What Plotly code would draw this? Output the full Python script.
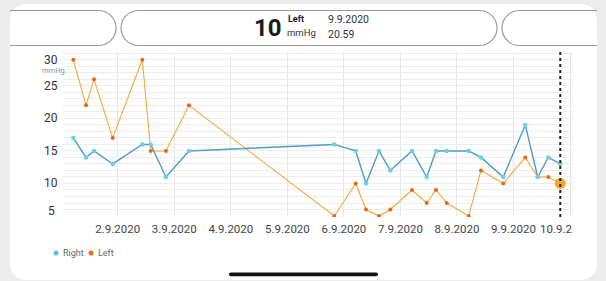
import plotly.graph_objects as go

W, H = 606, 281

# ---- data ----
times = [
    "2020-09-01 05:08", "2020-09-01 10:32", "2020-09-01 13:55", "2020-09-01 21:52",
    "2020-09-02 10:25", "2020-09-02 13:59", "2020-09-02 20:28", "2020-09-03 06:14",
    "2020-09-05 19:55", "2020-09-06 05:01", "2020-09-06 09:23", "2020-09-06 14:54",
    "2020-09-06 19:42", "2020-09-07 04:54", "2020-09-07 11:08", "2020-09-07 15:06",
    "2020-09-07 19:38", "2020-09-08 04:58", "2020-09-08 10:12", "2020-09-08 19:39",
    "2020-09-09 04:59", "2020-09-09 10:16", "2020-09-09 14:46", "2020-09-09 19:51",
]
right = [17, 14, 15, 13, 16, 16, 11, 15, 16, 15, 10, 15, 12, 15, 11, 15, 15, 15, 14, 11, 19, 11, 14, 13]
left = [29, 22, 26, 17, 29, 15, 15, 22, 5, 10, 6, 5, 6, 9, 7, 9, 7, 5, 12, 10, 14, 11, 11, 10]

selected_time = "2020-09-09 19:51"
selected_value = 10
header_value = "10"
header_side = "Left"
header_unit = "mmHg"
header_date = "9.9.2020"
header_clock = "20.59"

tick_vals = ["2020-09-02", "2020-09-03", "2020-09-04", "2020-09-05", "2020-09-06",
             "2020-09-07", "2020-09-08", "2020-09-09", "2020-09-10"]
tick_text = ["2.9.2020", "3.9.2020", "4.9.2020", "5.9.2020", "6.9.2020",
             "7.9.2020", "8.9.2020", "9.9.2020", ""]
last_tick_text = "10.9.2"
y_labels = [30, 25, 20, 15, 10, 5]

x_range = ["2020-09-01 00:38", "2020-09-10 01:15"]
y_range = [4.85, 30.2]

# ---- helpers (pixel -> paper) ----
def px(x):
    return x / W

def py(y):
    return 1 - y / H

def P(x, y):
    return f"{px(x):.5f},{py(y):.5f}"

def rounded_rect(x0, y0, x1, y1, r):
    return (f"M {P(x0 + r, y0)} L {P(x1 - r, y0)} Q {P(x1, y0)} {P(x1, y0 + r)} "
            f"L {P(x1, y1 - r)} Q {P(x1, y1)} {P(x1 - r, y1)} L {P(x0 + r, y1)} "
            f"Q {P(x0, y1)} {P(x0, y1 - r)} L {P(x0, y0 + r)} Q {P(x0, y0)} {P(x0 + r, y0)} Z")

k = 0.5523

def pill_center(x0, y0, x1, y1):
    r = (y1 - y0) / 2
    return (f"M {P(x0 + r, y0)} L {P(x1 - r, y0)} "
            f"C {P(x1 - r + k * r, y0)} {P(x1, y0 + r - k * r)} {P(x1, y0 + r)} "
            f"C {P(x1, y0 + r + k * r)} {P(x1 - r + k * r, y1)} {P(x1 - r, y1)} "
            f"L {P(x0 + r, y1)} "
            f"C {P(x0 + r - k * r, y1)} {P(x0, y0 + r + k * r)} {P(x0, y0 + r)} "
            f"C {P(x0, y0 + r - k * r)} {P(x0 + r - k * r, y0)} {P(x0 + r, y0)} Z")

def pill_right_end(x0, y0, x1, y1):
    r = (y1 - y0) / 2
    return (f"M {P(x0, y0)} L {P(x1 - r, y0)} "
            f"C {P(x1 - r + k * r, y0)} {P(x1, y0 + r - k * r)} {P(x1, y0 + r)} "
            f"C {P(x1, y0 + r + k * r)} {P(x1 - r + k * r, y1)} {P(x1 - r, y1)} "
            f"L {P(x0, y1)}")

def pill_left_end(x0, y0, x1, y1):
    r = (y1 - y0) / 2
    return (f"M {P(x1, y0)} L {P(x0 + r, y0)} "
            f"C {P(x0 + r - k * r, y0)} {P(x0, y0 + r - k * r)} {P(x0, y0 + r)} "
            f"C {P(x0, y0 + r + k * r)} {P(x0 + r - k * r, y1)} {P(x0 + r, y1)} "
            f"L {P(x1, y1)}")

PLOT_L, PLOT_R, PLOT_T, PLOT_B = 62.7, 573, 52, 217

fig = go.Figure()

fig.add_trace(go.Scatter(
    x=times, y=left, mode="lines+markers", name="Left",
    line=dict(color="#f3a73a", width=1.1),
    marker=dict(color="#e8651c", size=4),
    showlegend=False, hoverinfo="skip"))
fig.add_trace(go.Scatter(
    x=times, y=right, mode="lines+markers", name="Right",
    line=dict(color="#4b9cc8", width=1.4),
    marker=dict(color="#6ccdec", size=4.5),
    showlegend=False, hoverinfo="skip"))
fig.add_trace(go.Scatter(
    x=[selected_time], y=[selected_value], mode="markers",
    marker=dict(color="#f7a62a", size=11),
    showlegend=False, hoverinfo="skip"))

shapes = []
# card
shapes.append(dict(type="path", xref="paper", yref="paper", layer="below",
                   path=rounded_rect(10, 4, 597, 280, 18),
                   fillcolor="white", line=dict(width=0)))
# header pills
pill_line = dict(color="#9a9a9a", width=1.2)
shapes.append(dict(type="path", xref="paper", yref="paper",
                   path=pill_right_end(10, 10.5, 116, 45.5), line=pill_line))
shapes.append(dict(type="path", xref="paper", yref="paper",
                   path=pill_center(121, 10.5, 497, 45.5), line=pill_line, fillcolor="white"))
shapes.append(dict(type="path", xref="paper", yref="paper",
                   path=pill_left_end(502, 10.5, 597, 45.5), line=pill_line))
# selection dotted line
shapes.append(dict(type="line", xref="x", yref="paper",
                   x0=selected_time, x1=selected_time, y0=py(PLOT_B), y1=py(PLOT_T),
                   line=dict(color="#222222", width=2, dash="dot")))
# legend dots
shapes.append(dict(type="circle", xref="paper", yref="paper",
                   x0=px(53.5), x1=px(58.5), y0=py(255.5), y1=py(250.5),
                   fillcolor="#5bbfe8", line=dict(width=0)))
shapes.append(dict(type="circle", xref="paper", yref="paper",
                   x0=px(88.5), x1=px(93.5), y0=py(255.5), y1=py(250.5),
                   fillcolor="#f06a1c", line=dict(width=0)))
# home indicator
shapes.append(dict(type="path", xref="paper", yref="paper",
                   path=rounded_rect(229, 272.5, 378, 276.3, 1.8),
                   fillcolor="#111111", line=dict(width=0)))

ann = []
font = "Roboto, sans-serif"
for v in y_labels:
    shift = 0
    if v == 30:
        shift = -6.5
    if v == 5:
        shift = 5
    ann.append(dict(x=px(51), y=v, xref="paper", yref="y", text=str(v), showarrow=False,
                    xanchor="center", yanchor="middle", yshift=shift,
                    font=dict(family=font, size=12, color="#333333")))
ann.append(dict(x=px(53), y=py(70.5), xref="paper", yref="paper", text=header_unit,
                showarrow=False, xanchor="center", yanchor="middle",
                font=dict(family=font, size=7.5, color="#8a8a8a")))
ann.append(dict(x=px(574), y=py(229), xref="paper", yref="paper", text=last_tick_text,
                showarrow=False, xanchor="right", yanchor="middle",
                font=dict(family=font, size=11.5, color="#444444")))
# legend texts
ann.append(dict(x=px(60.5), y=py(253), xref="paper", yref="paper", text="Right",
                showarrow=False, xanchor="left", yanchor="middle",
                font=dict(family=font, size=9, color="#666666")))
ann.append(dict(x=px(95.5), y=py(253), xref="paper", yref="paper", text="Left",
                showarrow=False, xanchor="left", yanchor="middle",
                font=dict(family=font, size=9, color="#666666")))
# header
ann.append(dict(x=px(252), y=py(28.5), xref="paper", yref="paper", text=f"<b>{header_value}</b>",
                showarrow=False, xanchor="left", yanchor="middle",
                font=dict(family=font, size=24, color="#1a1a1a")))
ann.append(dict(x=px(285.5), y=py(19.5), xref="paper", yref="paper", text=f"<b>{header_side}</b>",
                showarrow=False, xanchor="left", yanchor="middle",
                font=dict(family=font, size=9, color="#1a1a1a")))
ann.append(dict(x=px(285), y=py(32.5), xref="paper", yref="paper", text=header_unit,
                showarrow=False, xanchor="left", yanchor="middle",
                font=dict(family=font, size=9.5, color="#333333")))
ann.append(dict(x=px(326), y=py(19.5), xref="paper", yref="paper", text=header_date,
                showarrow=False, xanchor="left", yanchor="middle",
                font=dict(family=font, size=10.5, color="#333333")))
ann.append(dict(x=px(326), y=py(34), xref="paper", yref="paper", text=header_clock,
                showarrow=False, xanchor="left", yanchor="middle",
                font=dict(family=font, size=10.5, color="#333333")))

fig.update_layout(
    width=W, height=H,
    margin=dict(l=0, r=0, t=0, b=0),
    paper_bgcolor="#ececec",
    plot_bgcolor="rgba(0,0,0,0)",
    showlegend=False,
    shapes=shapes,
    annotations=ann,
    xaxis=dict(domain=[px(PLOT_L), px(PLOT_R)], range=x_range, type="date",
               tickvals=tick_vals, ticktext=tick_text, showgrid=True,
               gridcolor="#e6e6e6", gridwidth=1, zeroline=False, showline=False,
               ticks="", ticklabelstandoff=3,
               tickfont=dict(family=font, size=11.5, color="#444444"),
               automargin=False, fixedrange=True),
    yaxis=dict(domain=[py(PLOT_B), py(PLOT_T)], range=y_range, dtick=1, tick0=0,
               showgrid=True, gridcolor="#ededed", gridwidth=1, zeroline=False,
               showline=False, showticklabels=False, ticks="",
               automargin=False, fixedrange=True),
)

fig.write_html("out.html", config={"displayModeBar": False},
               post_script="document.body.style.margin='0';document.body.style.background='#ececec';")
